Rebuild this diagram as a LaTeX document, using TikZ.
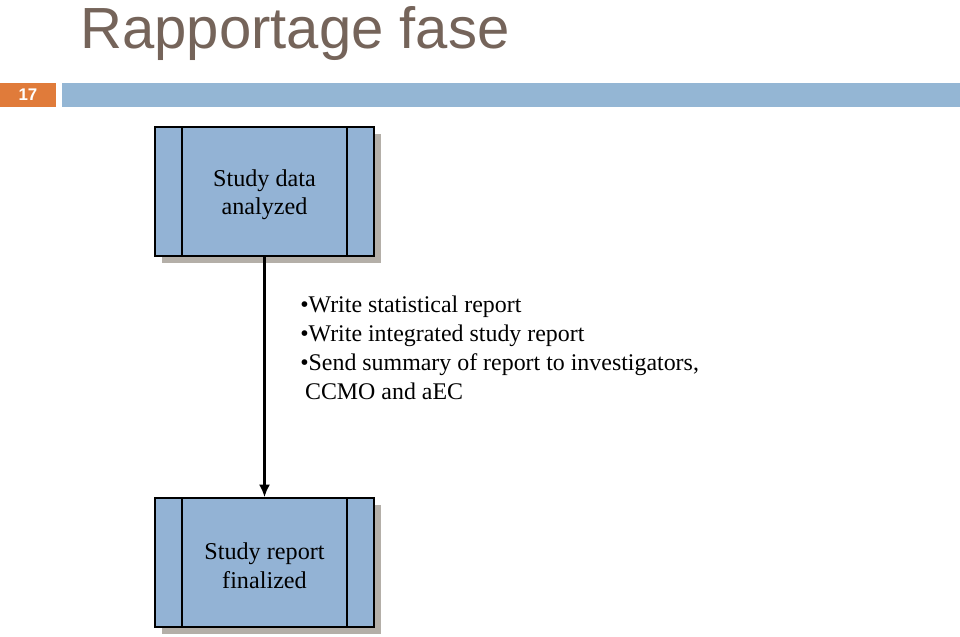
\documentclass[tikz,border=0pt]{standalone}
\usepackage{fontspec}
\setmainfont{Liberation Serif}
\newfontfamily\headfont{Liberation Sans}
\usetikzlibrary{arrows.meta,shadows}

\definecolor{titlebrown}{HTML}{75645A}
\definecolor{slideorange}{HTML}{E07B3A}
\definecolor{slideblue}{HTML}{94B6D4}
\definecolor{boxblue}{HTML}{93B3D5}
\definecolor{shadowgray}{HTML}{B4AFA8}

\tikzset{
  stagebox/.style={draw=black, line width=1pt, fill=boxblue,
    minimum width=5.475cm, minimum height=3.225cm, align=center,
    font=\fontsize{17.2}{20.2}\selectfont,
    drop shadow={shadow xshift=0.175cm, shadow yshift=-0.175cm,
      fill=shadowgray, opacity=1},
    path picture={
      \draw[line width=1pt] ([xshift=0.675cm]path picture bounding box.north west)
        -- ([xshift=0.675cm]path picture bounding box.south west);
      \draw[line width=1pt] ([xshift=-0.675cm]path picture bounding box.north east)
        -- ([xshift=-0.675cm]path picture bounding box.south east);
    }},
  flow/.style={line width=2pt, -{Latex[length=0.32cm,width=0.28cm]}}
}

\begin{document}
\begin{tikzpicture}
\useasboundingbox (0,0) rectangle (24,-15.9);

\node[anchor=base west, inner sep=0, text=titlebrown,
  font=\headfont\fontsize{41.3}{48}\selectfont] (title) at (2.0,-1.2) {Rapportage fase};

\node[fill=slideorange, minimum width=1.4cm, minimum height=0.6cm, inner sep=0,
  text=white, font=\headfont\bfseries\fontsize{12}{14}\selectfont] (slidenr) at (0.7,-2.375) {17};
\fill[slideblue] (1.55,-2.075) rectangle (24,-2.675);

\node[stagebox] (analyzed) at (6.6125,-4.7875) {\rule{0pt}{0.58cm}Study data\\analyzed};
\node[stagebox] (finalized) at (6.6125,-14.0625) {\rule{0pt}{0.58cm}Study report\\finalized};

\draw[flow] (analyzed) -- (finalized);

\node[anchor=north west, inner sep=0, align=left,
  font=\fontsize{17}{20.6}\selectfont] (tasks) at (7.5,-7.4)
  {\textbullet Write statistical report\\
   \textbullet Write integrated study report\\
   \textbullet Send summary of report to investigators,\\
   \hspace{0.12cm}CCMO and aEC};

\end{tikzpicture}
\end{document}
